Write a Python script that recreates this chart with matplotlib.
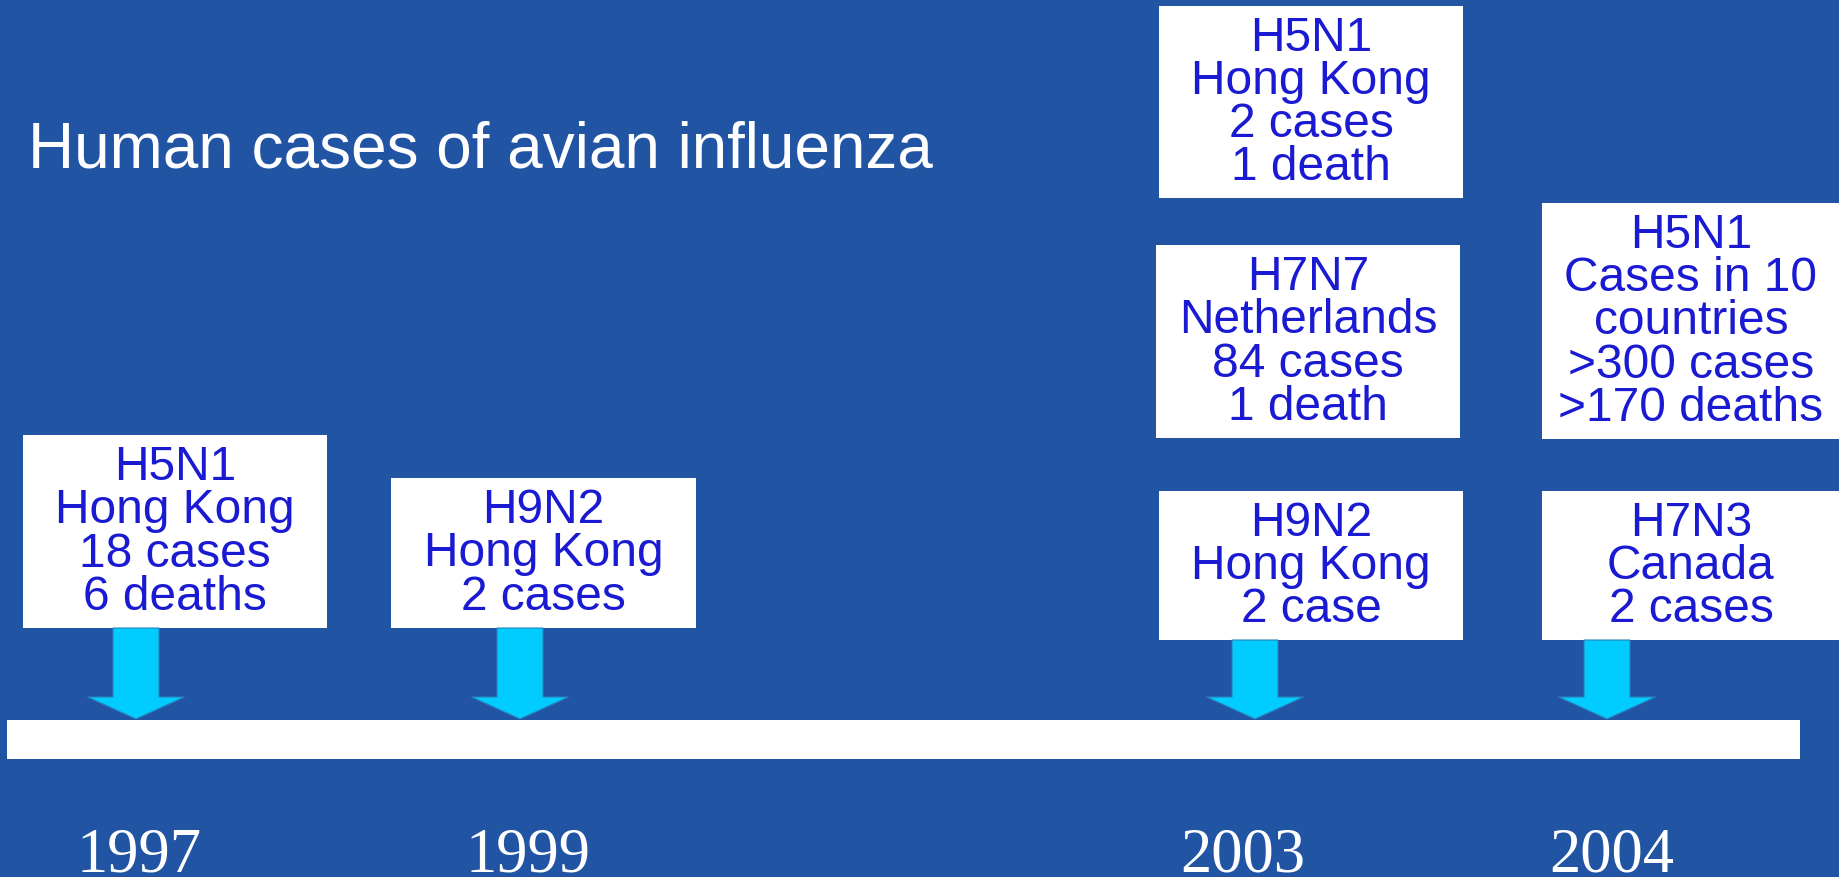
import matplotlib
matplotlib.use('Agg')
import matplotlib.pyplot as plt
from matplotlib.patches import Rectangle, FancyArrow

# timeline data
years = [1997, 1999, 2003, 2004]
event_year = [1997, 1999, 2003, 2003, 2003, 2004, 2004]
event_level = [0, 0, 2, 1, 0, 1, 0]   # 0 = box closest to the timeline
event_subtype = ['H5N1', 'H9N2', 'H5N1', 'H7N7', 'H9N2', 'H5N1', 'H7N3']
event_place = ['Hong Kong', 'Hong Kong', 'Hong Kong', 'Netherlands',
               'Hong Kong', 'Cases in 10\ncountries', 'Canada']
event_cases = ['18 cases', '2 cases', '2 cases', '84 cases', '2 case',
               '>300 cases', '2 cases']
event_deaths = ['6 deaths', '', '1 death', '1 death', '', '>170 deaths', '']

title = 'Human cases of avian influenza'

# layout (pixel space of the slide)
W, H = 1840, 877
year_x = [139, 528, 1243, 1612]
arrow_x = [136, 520, 1255, 1607]
box_x0 = [23, 391, 1159, 1156, 1159, 1542, 1542]
box_x1 = [327, 696, 1463, 1460, 1463, 1840, 1840]
box_y0 = [435, 478, 6, 245, 491, 203, 491]
box_y1 = [628, 628, 198, 438, 640, 439, 640]
bar_x0, bar_x1, bar_y0, bar_y1 = 7, 1800, 720, 759

bg = '#2254a4'
txt_blue = '#1a1ad2'
cyan = '#00ccff'

fig = plt.figure(figsize=(W / 100, H / 100), dpi=100)
fig.patch.set_facecolor(bg)
ax = fig.add_axes([0, 0, 1, 1])
ax.set_xlim(0, W)
ax.set_ylim(H, 0)
ax.axis('off')

ax.text(28, 168, title, color='white', fontsize=46,
        family='Liberation Sans', va='baseline', ha='left')

# timeline bar
ax.add_patch(Rectangle((bar_x0, bar_y0), bar_x1 - bar_x0, bar_y1 - bar_y0,
                       facecolor='white', edgecolor='none'))

# event boxes
for i in range(len(event_year)):
    ax.add_patch(Rectangle((box_x0[i], box_y0[i]), box_x1[i] - box_x0[i],
                           box_y1[i] - box_y0[i], facecolor='white',
                           edgecolor='none'))
    lines = [event_subtype[i], event_place[i], event_cases[i]]
    if event_deaths[i]:
        lines.append(event_deaths[i])
    cx = (box_x0[i] + min(box_x1[i], W)) / 2
    cy = (box_y0[i] + box_y1[i]) / 2 + 1
    ax.text(cx, cy, '\n'.join(lines), color=txt_blue, fontsize=34.5,
            family='Liberation Sans', ha='center', va='center',
            linespacing=0.946)

# arrows and year labels
for j, yr in enumerate(years):
    start = max(box_y1[i] for i in range(len(event_year))
                if event_year[i] == yr and event_level[i] == 0)
    tip = bar_y0 - 1
    ax.add_patch(FancyArrow(arrow_x[j], start, 0, tip - start, width=46,
                            head_width=97, head_length=22,
                            length_includes_head=True, facecolor=cyan,
                            edgecolor='#2a7fb8', linewidth=0.8))
    ax.text(year_x[j], 872, str(yr), color='white', fontsize=45,
            family='Liberation Serif', ha='center', va='baseline')

fig.savefig('out.png', dpi=100, facecolor=bg)
